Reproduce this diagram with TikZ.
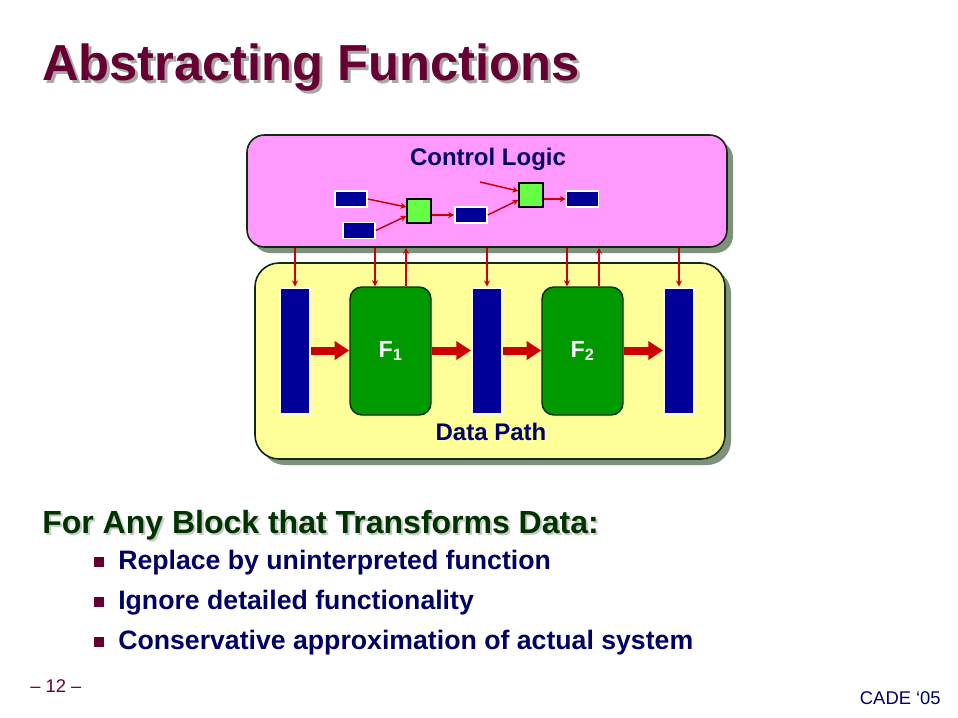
\documentclass[tikz,border=0pt]{standalone}
\usepackage{fontspec}
\setmainfont{Liberation Sans}
\usetikzlibrary{arrows.meta,shadows,calc}
\definecolor{maroon}{HTML}{660033}
\definecolor{titleshadow}{HTML}{A8A8A8}
\definecolor{pinkbg}{HTML}{FF99FF}
\definecolor{yellowbg}{HTML}{FFFF99}
\definecolor{boxline}{HTML}{0F2A0F}
\definecolor{boxshadow}{RGB}{125,146,125}
\definecolor{navy}{HTML}{000099}
\definecolor{navytext}{HTML}{000066}
\definecolor{lgreen}{HTML}{66FF44}
\definecolor{fgreen}{HTML}{009900}
\definecolor{fborder}{HTML}{003300}
\definecolor{arrred}{HTML}{CC0000}
\definecolor{hgreen}{HTML}{003300}
\definecolor{hshadow}{HTML}{C4CCC4}
\tikzset{
  titletext/.style={anchor=base west, inner sep=0, font=\bfseries\fontsize{38}{45}\selectfont},
  headtext/.style={anchor=base west, inner sep=0, font=\bfseries\fontsize{24}{29}\selectfont},
  bullettext/.style={anchor=base west, inner sep=0, text=navytext, font=\bfseries\fontsize{20}{24}\selectfont},
  bulletsq/.style={fill=maroon, minimum width=7pt, minimum height=6.8pt, inner sep=0},
  labeltext/.style={anchor=base, inner sep=0, text=navytext, font=\bfseries\fontsize{18}{22}\selectfont},
  bigbox/.style={draw=boxline, line width=1.2pt,
    drop shadow={shadow xshift=4.5pt, shadow yshift=-4.5pt, fill=boxshadow, opacity=1}},
  regbar/.style={draw=white, line width=1.5pt, fill=navy, minimum width=22.5pt, minimum height=94.5pt, inner sep=0},
  fbox/.style={draw=fborder, fill=fgreen, line width=1.1pt, rounded corners=9pt,
    minimum width=60.75pt, minimum height=96pt, inner sep=0, text=white,
    font=\bfseries\fontsize{17.5}{20}\selectfont},
  creg/.style={draw=white, line width=1.2pt, fill=navy, minimum width=24pt, minimum height=12pt, inner sep=0},
  gsq/.style={draw=black, line width=0.9pt, fill=lgreen, minimum size=18pt, inner sep=0},
  thinarrow/.style={draw=arrred, line width=1.1pt, -{Stealth[length=4.5pt,width=4.5pt]}},
  thickarrow/.style={draw=arrred, line width=6pt, -{Triangle[length=11pt,width=13.5pt]}},
  foottext/.style={anchor=base west, inner sep=0, font=\fontsize{13.8}{16}\selectfont}
}
\begin{document}
\begin{tikzpicture}[x=0.75pt,y=-0.75pt]
\useasboundingbox (0,0) rectangle (958,718);
\fill[white] (0,0) rectangle (958,718);

% title
\node[titletext, text=titleshadow] (tshadow) at (45,83) {Abstracting Functions};
\node[titletext, text=maroon] (title) at (42,80) {Abstracting Functions};

% control logic box
\node[bigbox, fill=pinkbg, rounded corners=13pt, minimum width=360pt, minimum height=84pt, inner sep=0] (cl) at (487,191) {};
\node[labeltext] (cltext) at (488,165) {Control Logic};

% data path box
\node[bigbox, fill=yellowbg, rounded corners=18pt, minimum width=352.5pt, minimum height=147pt, inner sep=0] (dp) at (490,361) {};
\node[labeltext] (dptext) at (491,440) {Data Path};

% registers and function blocks
\node[regbar] (r1) at (295,350.5) {};
\node[regbar] (r2) at (487,350.5) {};
\node[regbar] (r3) at (679,350.5) {};
\node[fbox] (f1) at (390.5,351) {F\textsubscript{1}};
\node[fbox] (f2) at (582.5,351) {F\textsubscript{2}};

% thick data arrows
\draw[thickarrow] (r1.east) -- (r1.east -| f1.west);
\draw[thickarrow] (f1.east |- r1.east) -- (r2.west);
\draw[thickarrow] (r2.east) -- (r2.east -| f2.west);
\draw[thickarrow] (f2.east |- r2.east) -- (r3.west);

% control logic internals
\node[creg] (c1) at (351,199) {};
\node[creg] (c2) at (359,230.5) {};
\node[creg] (c3) at (471,215) {};
\node[creg] (c4) at (582.5,199) {};
\node[gsq] (g1) at (419,211) {};
\node[gsq] (g2) at (531,195) {};
\coordinate (cin) at (480,182);
\draw[thinarrow] (c1.east) -- ($(g1.west)+(0,-4)$);
\draw[thinarrow] (c2.east) -- ($(g1.west)+(0,5)$);
\draw[thinarrow] (g1.east |- c3.west) -- (c3.west);
\draw[thinarrow] (c3.east) -- ($(g2.west)+(0,5)$);
\draw[thinarrow] (cin) -- ($(g2.west)+(0,-4)$);
\draw[thinarrow] (g2.east |- c4.west) -- (c4.west);

% vertical control arrows
\coordinate (f1a) at ($(f1.north)+(-15.5,0)$);
\coordinate (f1b) at ($(f1.north)+(15.5,0)$);
\coordinate (f2a) at ($(f2.north)+(-15.5,0)$);
\coordinate (f2b) at ($(f2.north)+(16.5,0)$);
\draw[thinarrow] (cl.south -| r1) -- (r1.north);
\draw[thinarrow] (cl.south -| f1a) -- (f1a);
\draw[thinarrow] (f1b) -- (cl.south -| f1b);
\draw[thinarrow] (cl.south -| r2) -- (r2.north);
\draw[thinarrow] (cl.south -| f2a) -- (f2a);
\draw[thinarrow] (f2b) -- (cl.south -| f2b);
\draw[thinarrow] (cl.south -| r3) -- (r3.north);

% heading and bullets
\node[headtext, text=hshadow] (hshadow) at (44,535) {For Any Block that Transforms Data:};
\node[headtext, text=hgreen] (head) at (42,533) {For Any Block that Transforms Data:};
\node[bullettext] (b1) at (118,569) {Replace by uninterpreted function};
\node[bullettext] (b2) at (118,609) {Ignore detailed functionality};
\node[bullettext] (b3) at (118,649) {Conservative approximation of actual system};
\node[bulletsq] (s1) at (99,562) {};
\node[bulletsq] (s2) at (99,602) {};
\node[bulletsq] (s3) at (99,642) {};

% footer
\node[foottext, text=maroon] (page) at (30,692) {– 12 –};
\node[foottext, text=navytext, anchor=base east] (conf) at (941,704) {CADE ‘05};
\end{tikzpicture}
\end{document}
